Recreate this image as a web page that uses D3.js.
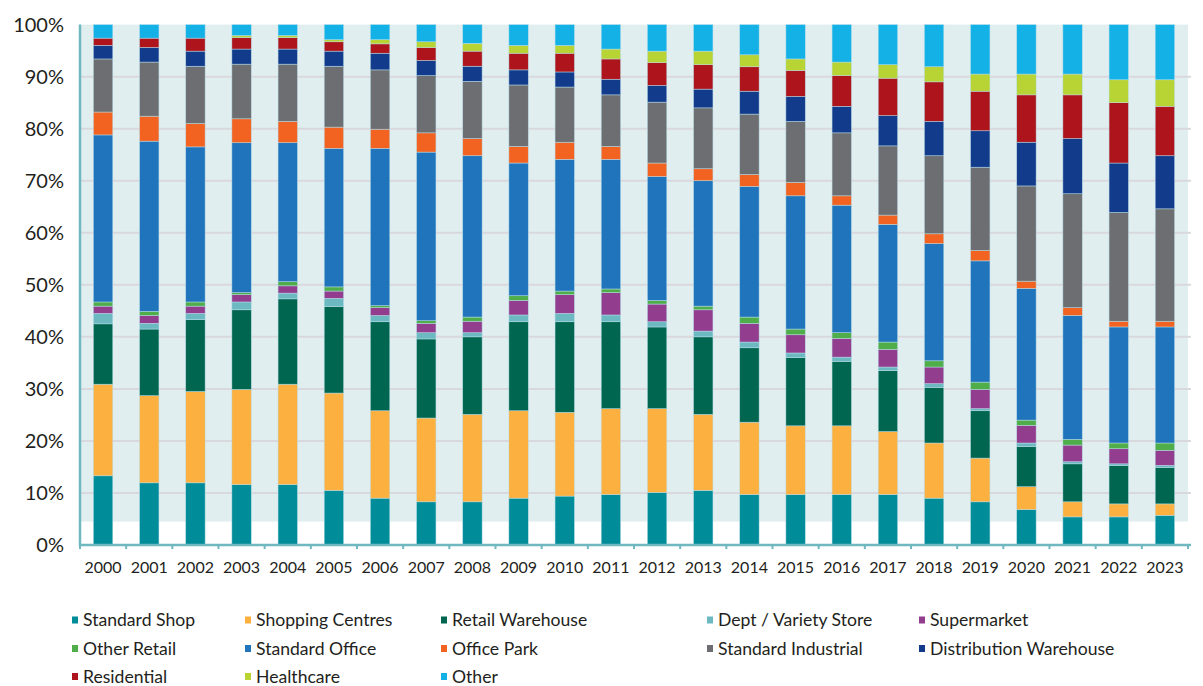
<!DOCTYPE html>
<html lang="en">
<head>
<meta charset="UTF-8">
<title>Stacked share by sector</title>
<script src="https://cdn.jsdelivr.net/npm/d3@7"></script>
<style>
  body { margin: 0; background: #fff; }
  svg text { font-family: Lato, "Open Sans", sans-serif; fill: #231f20; }
</style>
</head>
<body>
<svg width="1203" height="686"></svg>
<script>
// years on the x axis
var years = ['2000','2001','2002','2003','2004','2005','2006','2007','2008','2009','2010','2011',
             '2012','2013','2014','2015','2016','2017','2018','2019','2020','2021','2022','2023'];

var seriesNames = ['Standard Shop','Shopping Centres','Retail Warehouse','Dept / Variety Store','Supermarket',
                   'Other Retail','Standard Office','Office Park','Standard Industrial','Distribution Warehouse',
                   'Residential','Healthcare','Other'];

var seriesColors = ['#008c99','#fbb040','#006650','#6cb9c2','#933d8f','#4fae4a','#1f74bc','#f26322',
                    '#6d6e71','#133b8b','#ad141b','#b8d334','#13b1e6'];

// share of each sector per year (%)
var standardShop     = [13.3,11.95,11.95,11.6,11.6,10.5,9.0,8.3,8.3,9.0,9.4,9.7,10.1,10.5,9.7,9.7,9.7,9.7,9.0,8.3,6.8,5.4,5.4,5.7];
var shoppingCentres  = [17.6,16.75,17.55,18.3,19.3,18.7,16.8,16.1,16.8,16.8,16.1,16.5,16.1,14.6,13.9,13.2,13.2,12.1,10.6,8.4,4.4,2.9,2.5,2.2];
var retailWarehouse  = [11.6,12.8,13.8,15.3,16.4,16.6,17.1,15.2,14.9,17.1,17.4,16.7,15.7,14.9,14.3,13.1,12.4,11.7,10.7,9.1,7.7,7.3,7.4,7.0];
var deptStore        = [2.0,1.1,1.2,1.5,1.1,1.6,1.2,1.2,0.8,1.3,1.6,1.3,1.0,1.1,1.1,0.9,0.8,0.7,0.7,0.4,0.7,0.4,0.3,0.4];
var supermarket      = [1.4,1.5,1.4,1.4,1.4,1.4,1.5,1.8,2.2,2.8,3.6,4.3,3.4,4.1,3.6,3.5,3.6,3.4,3.2,3.7,3.4,3.2,2.9,2.9];
var otherRetail      = [0.8,0.8,0.8,0.4,0.8,0.8,0.4,0.5,0.8,0.9,0.7,0.7,0.7,0.7,1.2,1.1,1.1,1.4,1.2,1.4,1.0,1.1,1.1,1.4];
var standardOffice   = [32.1,32.7,29.8,28.8,26.7,26.6,30.2,32.4,31.0,25.5,25.3,24.9,23.8,24.1,25.1,25.6,24.5,22.6,22.5,23.3,25.3,23.8,22.3,22.3];
var officePark       = [4.4,4.8,4.5,4.6,4.1,4.1,3.7,3.7,3.3,3.2,3.3,2.5,2.6,2.3,2.3,2.6,1.8,1.8,1.9,2.0,1.4,1.5,1.1,1.1];
var standardIndustry = [10.2,10.4,11.0,10.5,11.0,11.7,11.4,11.0,11.0,11.8,10.6,9.9,11.7,11.7,11.6,11.7,12.1,13.3,15.0,16.0,18.3,21.9,20.9,21.6];
var distribution     = [2.6,2.8,2.9,2.9,2.9,2.9,3.2,2.9,2.9,2.9,2.9,3.0,3.2,3.6,4.4,4.8,5.1,5.8,6.6,7.0,8.4,10.6,9.5,10.2];
var residential      = [1.4,1.8,2.5,2.2,2.2,1.8,1.8,2.5,2.9,3.2,3.6,3.9,4.4,4.7,4.7,5.0,5.9,7.2,7.6,7.6,9.1,8.4,11.6,9.5];
var healthcare       = [0,0,0,0.4,0.4,0.4,0.8,1.1,1.5,1.5,1.5,1.9,2.2,2.6,2.3,2.2,2.6,2.6,2.9,3.3,4.0,4.0,4.4,5.1];
var other            = [2.6,2.6,2.6,2.1,2.1,2.9,2.9,3.3,3.6,4.0,4.0,4.7,5.1,5.1,5.8,6.6,7.2,7.7,8.1,9.5,9.5,9.5,10.6,10.6];

var yTicks = [0,0.1,0.2,0.3,0.4,0.5,0.6,0.7,0.8,0.9,1];

var allSeries = [standardShop,shoppingCentres,retailWarehouse,deptStore,supermarket,otherRetail,
                 standardOffice,officePark,standardIndustry,distribution,residential,healthcare,other];

// build table rows for d3.stack
var table = years.map(function(yr, i){
    var row = {year: yr};
    seriesNames.forEach(function(n, k){ row[n] = allSeries[k][i]; });
    return row;
});

var svg = d3.select('svg');
var plotLeft = 80, plotRight = 1188, plotTop = 24.6, plotBottom = 545;

var x = d3.scaleBand().domain(years).range([plotLeft, plotRight]).paddingInner(0.58).paddingOuter(0.29);
var y = d3.scaleLinear().domain([0, 1]).range([plotBottom, plotTop]);
var color = d3.scaleOrdinal().domain(seriesNames).range(seriesColors);

// plot background (stops a little above the baseline)
svg.append('rect')
    .attr('x', plotLeft).attr('y', y(1))
    .attr('width', plotRight - plotLeft).attr('height', y(0.045) - y(1))
    .attr('fill', '#e1eef0');

// gridlines
svg.append('g').selectAll('line')
    .data(yTicks.filter(function(t){ return t > 0 && t < 1; }))
    .enter().append('line')
    .attr('x1', plotLeft).attr('x2', plotRight + 3)
    .attr('y1', function(d){ return y(d); }).attr('y2', function(d){ return y(d); })
    .attr('stroke', '#d9d9dd').attr('stroke-width', 2);

// stacked bars
var stack = d3.stack().keys(seriesNames).offset(d3.stackOffsetExpand);
var layers = stack(table);

svg.append('g').selectAll('g')
    .data(layers)
    .enter().append('g')
    .attr('fill', function(d){ return color(d.key); })
    .selectAll('rect')
    .data(function(d){ return d; })
    .enter().append('rect')
    .attr('x', function(d){ return x(d.data.year); })
    .attr('width', x.bandwidth())
    .attr('y', function(d){ return y(d[1]); })
    .attr('height', function(d){ return Math.max(0, y(d[0]) - y(d[1])); })
    .attr('stroke', '#b9dfea').attr('stroke-width', 0.6).attr('stroke-opacity', 0.8);

// y axis
var yAxis = svg.append('g');
yAxis.append('line')
    .attr('x1', plotLeft).attr('x2', plotLeft).attr('y1', plotTop).attr('y2', plotBottom + 1)
    .attr('stroke', '#6fb8c0').attr('stroke-width', 2.5);
yAxis.selectAll('text')
    .data(yTicks).enter().append('text')
    .attr('x', 64).attr('y', function(d){ return y(d); })
    .attr('dy', '0.35em').attr('text-anchor', 'end')
    .style('font-size', '20px')
    .text(function(d){ return Math.round(d * 100) + '%'; });

// x axis
var xAxis = svg.append('g');
xAxis.append('line')
    .attr('x1', plotLeft - 1).attr('x2', plotRight + 3).attr('y1', plotBottom).attr('y2', plotBottom)
    .attr('stroke', '#6fb8c0').attr('stroke-width', 2.5);
var step = x.step();
xAxis.selectAll('.tick')
    .data(d3.range(years.length + 1)).enter().append('line')
    .attr('x1', function(i){ return plotLeft + i * step; })
    .attr('x2', function(i){ return plotLeft + i * step; })
    .attr('y1', plotBottom).attr('y2', plotBottom + 4)
    .attr('stroke', '#6fb8c0').attr('stroke-width', 2);
xAxis.selectAll('text')
    .data(years).enter().append('text')
    .attr('x', function(d){ return x(d) + x.bandwidth() / 2; })
    .attr('y', 573).attr('text-anchor', 'middle')
    .style('font-size', '16px')
    .text(function(d){ return d; });

// legend, 5 columns
var colX = [72, 245, 441, 707, 919];
var rowY = [620, 648.5, 676.5];
var legend = svg.append('g').selectAll('g')
    .data(seriesNames).enter().append('g')
    .attr('transform', function(d, i){
        return 'translate(' + colX[i % 5] + ',' + rowY[Math.floor(i / 5)] + ')';
    });
legend.append('rect')
    .attr('x', 0).attr('y', -3.5).attr('width', 6).attr('height', 7)
    .attr('fill', function(d){ return color(d); });
legend.append('text')
    .attr('x', 11).attr('dy', '0.35em')
    .style('font-size', '17.6px')
    .text(function(d){ return d; });
</script>
</body>
</html>
